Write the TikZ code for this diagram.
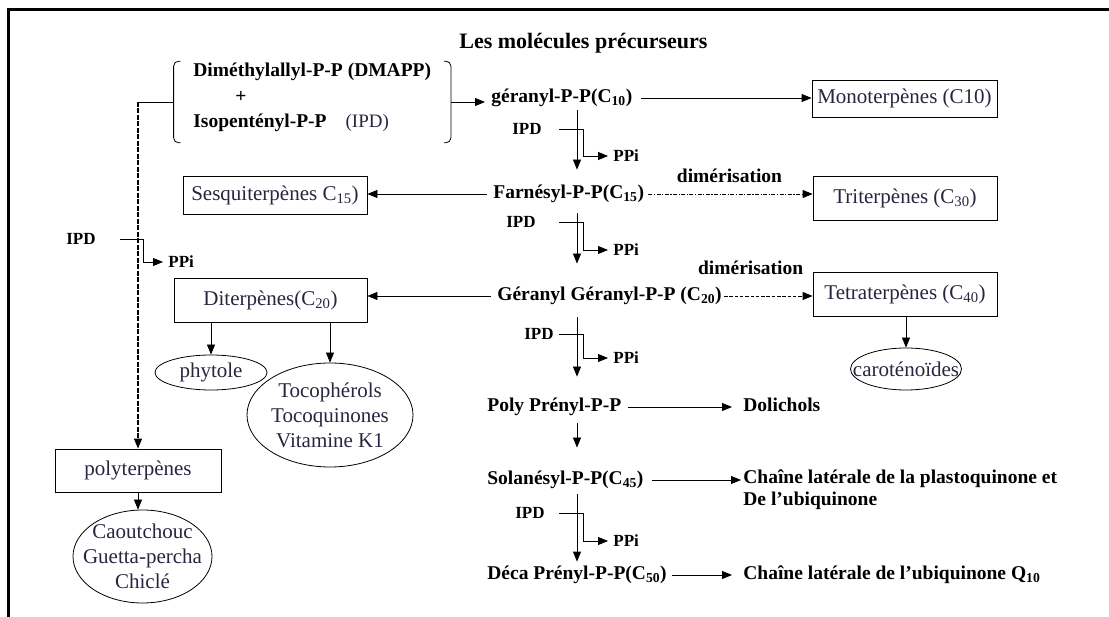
\documentclass[tikz,border=0pt]{standalone}
\usepackage{fontspec}
\setmainfont{Liberation Serif}
\usetikzlibrary{arrows.meta,positioning,shapes.geometric,fit}
\definecolor{bleunuit}{RGB}{38,38,64}

\begin{document}
\begin{tikzpicture}[x=1pt, y=-1pt, line width=0.8pt,
  mol/.style={anchor=west, inner sep=2pt, text height=14pt, text depth=5pt,
    font=\fontsize{19.5}{23}\selectfont\bfseries},
  pet/.style={inner xsep=5pt, inner ysep=2pt, font=\fontsize{17}{20}\selectfont\bfseries},
  fam/.style={draw, inner sep=0pt, text=bleunuit, font=\fontsize{21}{25}\selectfont},
  prod/.style={draw, ellipse, inner sep=0pt},
  ptxt/.style={text=bleunuit, align=center, font=\fontsize{21}{25}\selectfont},
  fl/.style={-{Triangle[length=10pt,width=8pt]}},
  tirets/.style={dash pattern=on 5pt off 1.5pt, line width=1.2pt},
  pointtiret/.style={dash pattern=on 4pt off 1.5pt on 1.2pt off 1.5pt},
  tiret/.style={dash pattern=on 3.5pt off 1.8pt}
]
\useasboundingbox (0,0) rectangle (1109,617);
\draw[line width=3pt] (1109,10) -- (8,10) -- (8,617);

% precurseurs
\node[mol, font=\fontsize{22}{26}\selectfont\bfseries] (titre) at (457,44) {Les molécules précurseurs};
\node[mol] (dmapp) at (191,72) {Diméthylallyl-P-P (DMAPP)};
\node[mol] (plus) at (233,98) {+};
\node[mol] (ipp) at (191,123) {Isopentényl-P-P\hspace{19pt}{\mdseries\color{bleunuit}\fontsize{19}{23}\selectfont(IPD)}};
\node[fit=(dmapp)(ipp), inner xsep=17pt, inner ysep=3pt, yshift=-4.5pt] (prec) {};
\draw[rounded corners=5pt] ([xshift=7pt]prec.north west) -- (prec.north west) -- (prec.south west) -- ([xshift=7pt]prec.south west);
\draw[rounded corners=5pt] ([xshift=-7pt]prec.north east) -- (prec.north east) -- (prec.south east) -- ([xshift=-7pt]prec.south east);

% chaine centrale
\node[mol] (ger) at (489,98) {géranyl-P-P(C\textsubscript{10})};
\node[mol] (farn) at (491,194) {Farnésyl-P-P(C\textsubscript{15})};
\node[mol] (gg) at (495,296) {Géranyl Géranyl-P-P (C\textsubscript{20})};
\node[mol] (poly) at (485,407) {Poly Prényl-P-P};
\node[mol] (sola) at (485,480) {Solanésyl-P-P(C\textsubscript{45})};
\node[mol] (deca) at (485,575) {Déca Prényl-P-P(C\textsubscript{50})};
\node[mol] (doli) at (741,407) {Dolichols};
\node[anchor=north west, inner sep=2pt, align=left, font=\fontsize{19.5}{22}\selectfont\bfseries] (chaine1) at (741,467) {Chaîne latérale de la plastoquinone et\\De l’ubiquinone};
\node[mol] (chaine2) at (741,575) {Chaîne latérale de l’ubiquinone Q\textsubscript{10}};

% familles
\node[fam, minimum width=185pt, minimum height=37pt] (mono) at (904.5,98.5) {Monoterpènes (C10)};
\node[fam, minimum width=184pt, minimum height=38pt] (sesq) at (275,195) {Sesquiterpènes C\textsubscript{15})};
\node[fam, minimum width=184pt, minimum height=44pt] (tri) at (905,198) {Triterpènes (C\textsubscript{30})};
\node[fam, minimum width=193pt, minimum height=44pt] (di) at (270.5,300) {Diterpènes(C\textsubscript{20})};
\node[fam, minimum width=184pt, minimum height=44pt] (tetra) at (905,294) {Tetraterpènes (C\textsubscript{40})};
\node[fam, minimum width=166pt, minimum height=43pt] (polyt) at (138,470.5) {polyterpènes};

% produits
\node[prod, minimum width=112pt, minimum height=35pt, label={[ptxt]center:phytole}] (phyt) at (211,372.5) {};
\node[prod, minimum width=166pt, minimum height=104pt, label={[ptxt]center:{Tocophérols\\Tocoquinones\\Vitamine K1}}] (toco) at (330,415) {};
\node[prod, minimum width=111pt, minimum height=42pt, label={[ptxt]center:caroténoïdes}] (carot) at (906,369) {};
\node[prod, minimum width=139pt, minimum height=93pt, label={[ptxt]center:{Caoutchouc\\Guetta-percha\\Chiclé}}] (caout) at (142.5,556.5) {};

% fleches
\coordinate (ax) at (577,0);
\coordinate (ax2) at (583,0);
\coordinate (ax0) at (143,0);
\draw[fl, shorten >=4pt] (prec.east) -- (prec.east -| ger.west);
\draw[fl, shorten <=6pt] (ger.east) -- (ger.east -| mono.west);
\draw[fl, shorten <=4pt] (farn.west) -- (farn.west -| sesq.east);
\draw[fl, pointtiret, shorten <=2pt] (farn.east) -- node[mol, anchor=south, yshift=4.5pt] (dim1) {dimérisation} (farn.east -| tri.west);
\draw[fl, shorten <=4pt] (gg.west) -- (gg.west -| di.east);
\draw[fl, tiret] (gg.east) -- node[mol, anchor=south, pos=0.3, yshift=14.5pt] (dim2) {dimérisation} (gg.east -| tetra.west);
\draw[fl] (tetra.south -| carot.north) -- (carot.north);
\draw[fl] (phyt.north |- di.south) -- (phyt.north);
\draw[fl] (toco.north |- di.south) -- (toco.north);
\draw[fl] (polyt.south) -- (caout.north -| polyt.south);
\draw[fl, shorten <=4pt, shorten >=9pt] (poly.east) -- (poly.east -| doli.west);
\draw[fl, shorten <=6pt] (sola.east) -- (sola.east -| chaine1.west);
\draw[fl, shorten <=3pt, shorten >=9pt] (deca.east) -- (deca.east -| chaine2.west);

\draw[fl, shorten >=12.5pt] (ger.south -| ax) -- (farn.north -| ax);
\draw[fl, shorten <=7.5pt, shorten >=20.5pt] (farn.south -| ax) -- (gg.north -| ax);
\draw[fl, shorten <=9.5pt, shorten >=18.5pt] (gg.south -| ax) -- (poly.north -| ax);
\draw[fl, shorten <=4.5pt, shorten >=20.5pt] (poly.south -| ax) -- (sola.north -| ax);
\draw[fl, shorten <=2.5pt, shorten >=1.5pt] (sola.south -| ax) -- (deca.north -| ax);

% IPD -> PPi
\coordinate (e1) at (559,129);
\node[pet, left=12pt of e1] (ipd1) {IPD};
\node[pet, anchor=west] (ppi1) at (608,156) {PPi};
\draw[fl] (e1) -| (ppi1.west -| ax2) -- (ppi1.west);
\coordinate (e2) at (559,222);
\node[pet, left=18pt of e2] (ipd2) {IPD};
\node[pet, anchor=west] (ppi2) at (608,250) {PPi};
\draw[fl] (e2) -| (ppi2.west -| ax2) -- (ppi2.west);
\coordinate (e3) at (559,334);
\node[pet, left=0pt of e3] (ipd3) {IPD};
\node[pet, anchor=west] (ppi3) at (608,358) {PPi};
\draw[fl] (e3) -| (ppi3.west -| ax2) -- (ppi3.west);
\coordinate (e4) at (559,513);
\node[pet, left=9pt of e4] (ipd4) {IPD};
\node[pet, anchor=west] (ppi4) at (608,541) {PPi};
\draw[fl] (e4) -| (ppi4.west -| ax2) -- (ppi4.west);

% polyterpenes
\draw (prec.west) -- (prec.west -| polyt.north) coordinate (coude);
\draw[fl, tirets] (coude) -- (polyt.north);
\coordinate (e0) at (120,239);
\node[pet, left=19pt of e0] (ipd0) {IPD};
\node[pet, anchor=west] (ppi0) at (163,262) {PPi};
\draw[fl] (e0) -| (ppi0.west -| ax0) -- (ppi0.west);
\end{tikzpicture}
\end{document}
